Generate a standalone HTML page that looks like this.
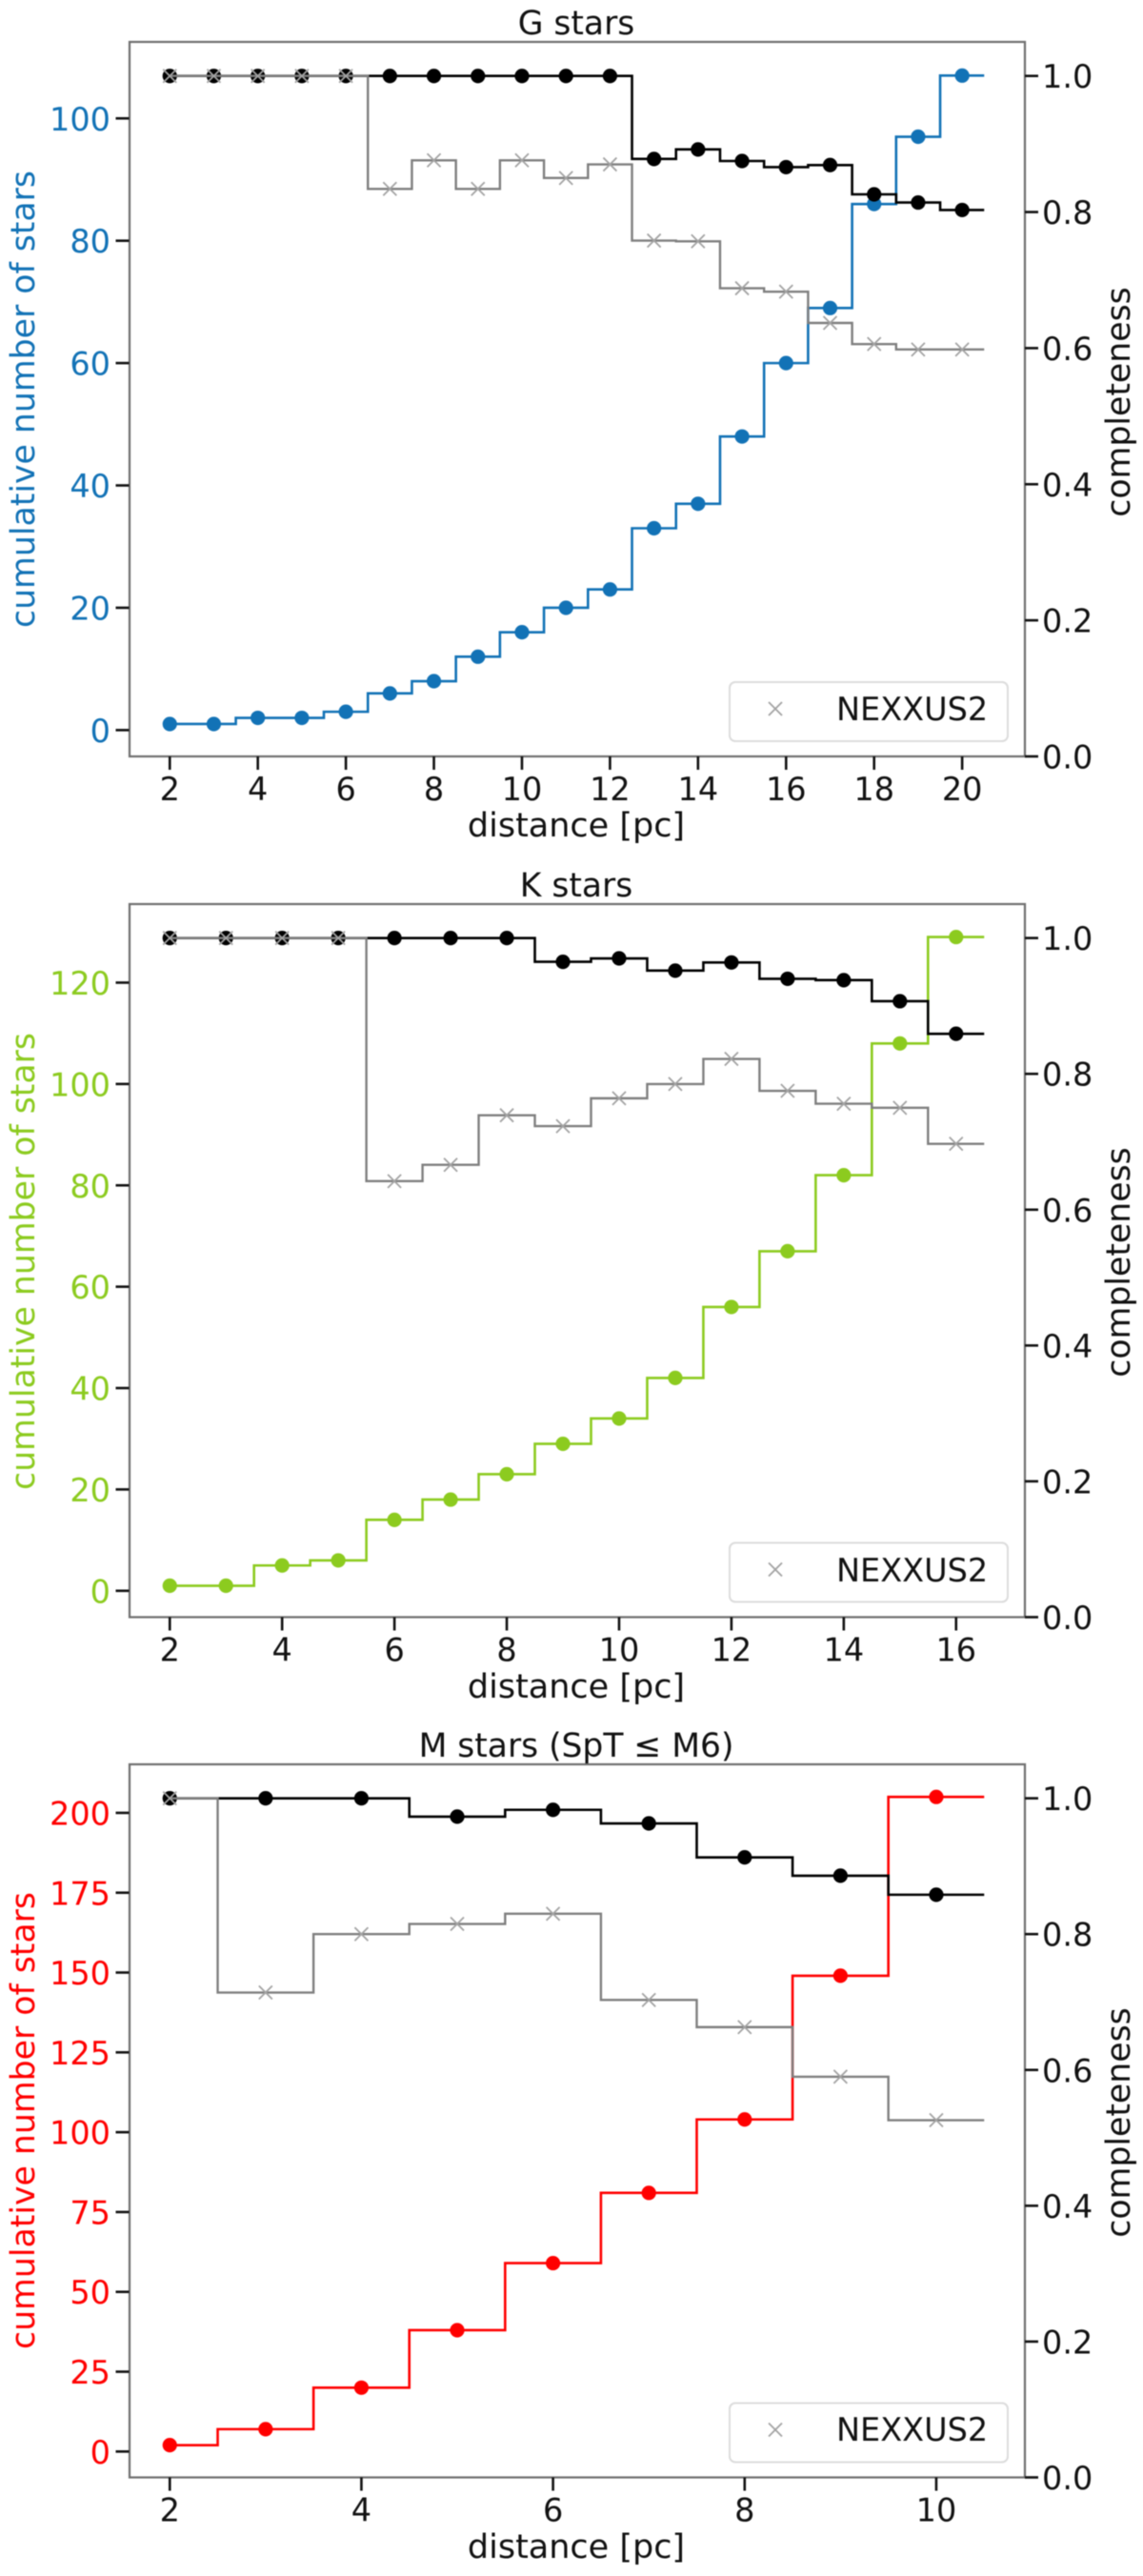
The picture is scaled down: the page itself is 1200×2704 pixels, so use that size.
<!DOCTYPE html>
<html lang="en">
<head>
<meta charset="utf-8">
<title>Cumulative star counts and completeness</title>
<style>
html,body{margin:0;padding:0;background:#fff;width:1200px;height:2704px;overflow:hidden}
svg{display:block;filter:blur(.45px)}
text{font-family:"DejaVu Sans","Liberation Sans",sans-serif;font-size:33.5px;fill:#111}
.ax{font-size:34.7px}
.xt{font-size:35px}
.tt{font-size:34.5px}
</style>
</head>
<body>
<svg id="figure" xmlns="http://www.w3.org/2000/svg" width="1200" height="2704" viewBox="0 0 1200 2704">
  <rect width="1200" height="2704" fill="#fff"/>
  <g id="panel-g">
    <text class="tt" x="605" y="36" text-anchor="middle">G stars</text>
    <text class="xt" x="605" y="878" text-anchor="middle">distance [pc]</text>
    <text class="ax" transform="translate(36 419) rotate(-90)" text-anchor="middle" style="fill:#1272b6">cumulative number of stars</text>
    <text class="ax" transform="translate(1186 422) rotate(-90)" text-anchor="middle">completeness</text>
    <text id="legend-g" x="878" y="756">NEXXUS2</text>
  </g>
  <g id="panel-k">
    <text class="tt" x="605" y="941" text-anchor="middle">K stars</text>
    <text class="xt" x="605" y="1782" text-anchor="middle">distance [pc]</text>
    <text class="ax" transform="translate(36 1324) rotate(-90)" text-anchor="middle" style="fill:#8ccb1f">cumulative number of stars</text>
    <text class="ax" transform="translate(1186 1325) rotate(-90)" text-anchor="middle">completeness</text>
    <text id="legend-k" x="878" y="1660">NEXXUS2</text>
  </g>
  <g id="panel-m">
    <text class="tt" x="605" y="1844" text-anchor="middle">M stars (SpT ≤ M6)</text>
    <text class="xt" x="605" y="2685" text-anchor="middle">distance [pc]</text>
    <text class="ax" transform="translate(36 2226) rotate(-90)" text-anchor="middle" style="fill:#ff0000">cumulative number of stars</text>
    <text class="ax" transform="translate(1186 2228) rotate(-90)" text-anchor="middle">completeness</text>
    <text id="legend-m" x="878" y="2562">NEXXUS2</text>
  </g>
</svg>
<script>
// ---- data ----
const gDistance = [2,3,4,5,6,7,8,9,10,11,12,13,14,15,16,17,18,19,20];
const gCumulative = [1,1,2,2,3,6,8,12,16,20,23,33,37,48,60,69,86,97,107];
const gCompleteness = [1,1,1,1,1,1,1,1,1,1,1,0.878,0.892,0.875,0.866,0.869,0.826,0.814,0.803];
const gNexxus = [1,1,1,1,1,0.834,0.876,0.834,0.876,0.85,0.87,0.758,0.757,0.688,0.683,0.637,0.606,0.598,0.598];
const gXTicks = [2,4,6,8,10,12,14,16,18,20];
const gLeftTicks = [0,20,40,60,80,100];

const kDistance = [2,3,4,5,6,7,8,9,10,11,12,13,14,15,16];
const kCumulative = [1,1,5,6,14,18,23,29,34,42,56,67,82,108,129];
const kCompleteness = [1,1,1,1,1,1,1,0.965,0.97,0.952,0.964,0.94,0.938,0.907,0.859];
const kNexxus = [1,1,1,1,0.642,0.666,0.739,0.723,0.764,0.785,0.822,0.775,0.756,0.75,0.697];
const kXTicks = [2,4,6,8,10,12,14,16];
const kLeftTicks = [0,20,40,60,80,100,120];

const mDistance = [2,3,4,5,6,7,8,9,10];
const mCumulative = [2,7,20,38,59,81,104,149,205];
const mCompleteness = [1,1,1,0.973,0.983,0.963,0.913,0.886,0.858];
const mNexxus = [1,0.714,0.8,0.815,0.83,0.703,0.663,0.59,0.526];
const mXTicks = [2,4,6,8,10];
const mLeftTicks = [0,25,50,75,100,125,150,175,200];

const rightTicks = [0,0.2,0.4,0.6,0.8,1];

// ---- drawing ----
const NS = 'http://www.w3.org/2000/svg';
const PLOT_LEFT = 135.5, PLOT_RIGHT = 1076;
const SPINE = '#6e6e6e', GREY = '#7f7f7f', XCOL = '#a3a3a3';

function make(parent, tag, attrs) {
  const el = document.createElementNS(NS, tag);
  for (const k in attrs) el.setAttribute(k, attrs[k]);
  parent.appendChild(el);
  return el;
}
function linearScale(d0, d1, r0, r1) {
  return v => r0 + (v - d0) * (r1 - r0) / (d1 - d0);
}
function stepPath(xs, ys, sx, sy) {
  let d = 'M' + sx(xs[0]) + ' ' + sy(ys[0]);
  for (let i = 0; i < xs.length; i++) {
    const next = xs[i] + 0.5;
    d += 'H' + sx(next);
    if (i < xs.length - 1) d += 'V' + sy(ys[i + 1]);
  }
  return d;
}
function drawPanel(p) {
  const g = document.getElementById(p.id);
  const legendText = document.getElementById(p.legendId);
  const sx = linearScale(p.xDomain[0], p.xDomain[1], PLOT_LEFT, PLOT_RIGHT);
  const sl = linearScale(p.leftDomain[0], p.leftDomain[1], p.bottom, p.top);
  const sr = linearScale(0, 1.05, p.bottom, p.top);
  const before = g.firstChild;
  const layer = document.createElementNS(NS, 'g');
  g.insertBefore(layer, before);
  
  

  // cumulative series
  const cumLine = make(layer, 'path', {d: stepPath(p.x, p.cum, sx, sl), fill: 'none', stroke: p.color, 'stroke-width': 2.6, 'stroke-linejoin': 'miter'});
  
  
  p.x.forEach((v, i) => {
    const c = make(layer, 'circle', {cx: sx(v), cy: sl(p.cum[i]), r: 7.6, fill: p.color});
    
    
  });

  // completeness series (black)
  const compLine = make(layer, 'path', {d: stepPath(p.x, p.comp, sx, sr), fill: 'none', stroke: '#000', 'stroke-width': 2.6});
  
  
  p.x.forEach((v, i) => {
    const c = make(layer, 'circle', {cx: sx(v), cy: sr(p.comp[i]), r: 7.6, fill: '#000'});
    
    
  });

  // NEXXUS2 series (grey)
  const nexLine = make(layer, 'path', {d: stepPath(p.x, p.nex, sx, sr), fill: 'none', stroke: GREY, 'stroke-width': 2.4});
  
  
  p.x.forEach((v, i) => {
    const cx = sx(v), cy = sr(p.nex[i]), s = 7;
    const m = make(layer, 'path', {d: 'M' + (cx - s) + ' ' + (cy - s) + 'L' + (cx + s) + ' ' + (cy + s) + 'M' + (cx - s) + ' ' + (cy + s) + 'L' + (cx + s) + ' ' + (cy - s), fill: 'none', stroke: XCOL, 'stroke-width': 1.8});
    
    
  });

  // spines
  const frame = make(layer, 'rect', {x: PLOT_LEFT + 0.5, y: p.top, width: PLOT_RIGHT - PLOT_LEFT - 0.5, height: p.bottom - p.top, fill: 'none', stroke: SPINE, 'stroke-width': 2.2});
  
  

  // x ticks
  p.xTicks.forEach(v => {
    const t = make(layer, 'line', {x1: sx(v), x2: sx(v), y1: p.bottom, y2: p.bottom + 14, stroke: '#111', 'stroke-width': 2.6});
    
    
    const l = make(layer, 'text', {x: sx(v), y: p.bottom + 46, 'text-anchor': 'middle'});
    l.textContent = String(v);
    
    
  });
  // left ticks
  p.leftTicks.forEach(v => {
    const y = sl(v);
    const t = make(layer, 'line', {x1: PLOT_LEFT - 14, x2: PLOT_LEFT, y1: y, y2: y, stroke: '#111', 'stroke-width': 2.6});
    
    
    const l = make(layer, 'text', {x: 116, y: y + 12.5, 'text-anchor': 'end', style: 'fill:' + p.color});
    l.textContent = String(v);
    
    
  });
  // right ticks
  rightTicks.forEach(v => {
    const y = sr(v);
    const t = make(layer, 'line', {x1: PLOT_RIGHT, x2: PLOT_RIGHT + 14, y1: y, y2: y, stroke: '#111', 'stroke-width': 2.6});
    
    
    const l = make(layer, 'text', {x: 1094, y: y + 12.5});
    l.textContent = v.toFixed(1);
    
    
  });

  // legend
  const lb = p.bottom - 16;
  const box = make(layer, 'rect', {x: 766, y: lb - 62, width: 292, height: 62, rx: 6, fill: '#fff', stroke: '#dcdcdc', 'stroke-width': 2});
  
  
  const s = 7, lx = 814, ly = lb - 34;
  const lm = make(layer, 'path', {d: 'M' + (lx - s) + ' ' + (ly - s) + 'L' + (lx + s) + ' ' + (ly + s) + 'M' + (lx - s) + ' ' + (ly + s) + 'L' + (lx + s) + ' ' + (ly - s), fill: 'none', stroke: XCOL, 'stroke-width': 1.8});
  
  
  g.appendChild(legendText);
}

drawPanel({id: 'panel-g', legendId: 'legend-g', key: 'g', color: '#1272b6', top: 44, bottom: 794,
  x: gDistance, cum: gCumulative, comp: gCompleteness, nex: gNexxus, xTicks: gXTicks, leftTicks: gLeftTicks,
  xDomain: [1.075, 21.425], leftDomain: [-4.3, 112.5]});
drawPanel({id: 'panel-k', legendId: 'legend-k', key: 'k', color: '#8ccb1f', top: 949, bottom: 1697.5,
  x: kDistance, cum: kCumulative, comp: kCompleteness, nex: kNexxus, xTicks: kXTicks, leftTicks: kLeftTicks,
  xDomain: [1.275, 17.225], leftDomain: [-5.2, 135.5]});
drawPanel({id: 'panel-m', legendId: 'legend-m', key: 'm', color: '#ff0000', top: 1852, bottom: 2600.5,
  x: mDistance, cum: mCumulative, comp: mCompleteness, nex: mNexxus, xTicks: mXTicks, leftTicks: mLeftTicks,
  xDomain: [1.575, 10.925], leftDomain: [-8.1, 215.2]});
</script>
</body>
</html>
